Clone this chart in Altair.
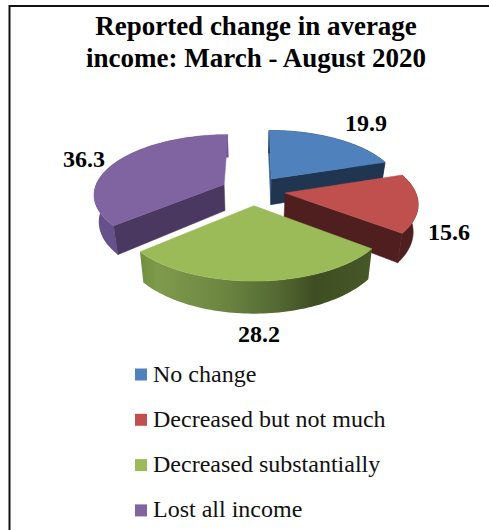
import numpy as np
import pandas as pd
import altair as alt

# Survey shares, clockwise from twelve o'clock
categories = ["No change", "Decreased but not much", "Decreased substantially", "Lost all income"]
shares = [19.9, 15.6, 28.2, 36.3]
title_lines = ["Reported change in average", "income: March - August 2020"]

top_colors = ["#4f81bd", "#c0504d", "#9bbb59", "#8064a2"]
cut_colors = ["#1f3550", "#4f1f1f", "#3f4f22", "#4a3860"]
SERIF = "Liberation Serif"

W, H = 489, 530
# Perspective model of the tilted pie
CX, CY = 253.0, 190.5
RX, RY = 130.0, 59.0
PERSP = 0.15
EXPLODE = 0.248
DEPTH = 26.5
FLOOR_SHRINK = 0.03

label_x = [366, 449, 259, 84]
label_y = [124, 233, 335, 160]
title_x = [256, 256]
title_y = [35, 67]

X_ENC = alt.X("x:Q", scale=alt.Scale(domain=[0, W]), axis=None)
Y_ENC = alt.Y("y:Q", scale=alt.Scale(domain=[H, 0]), axis=None)


def project(u, v, drop=0.0):
    f = 1.0 / (1.0 - PERSP * v)
    return (
        CX + RX * u * f * (1.0 - FLOOR_SHRINK * drop),
        CY + RY * v * f + drop * DEPTH * f,
    )


def ground(angle, mid, r=1.0):
    u = EXPLODE * np.sin(mid) + r * np.sin(angle)
    v = -EXPLODE * np.cos(mid) - r * np.cos(angle)
    return u, v


def polygon(points):
    xs, ys = zip(*points)
    xs = list(xs) + [xs[0]]
    ys = list(ys) + [ys[0]]
    return pd.DataFrame({"x": xs, "y": ys, "i": range(len(xs))})


def shape(points, fill):
    edge = "#ffffff00" if isinstance(fill, alt.LinearGradient) else fill
    return (
        alt.Chart(polygon(points))
        .mark_line(fill=fill, stroke=edge, strokeWidth=0.5, clip=False)
        .encode(x=X_ENC, y=Y_ENC, order=alt.Order("i:Q"))
    )


def side_gradient(stops):
    return alt.LinearGradient(
        gradient="linear",
        x1=0, x2=1, y1=0, y2=0,
        stops=[alt.GradientStop(offset=o, color=c) for o, c in stops],
    )


rim_fills = [
    "#1f3550",
    "#4f1f1f",
    side_gradient([(0, "#70903f"), (0.08, "#7f9a4c"), (0.35, "#6d8741"),
                   (0.6, "#536833"), (0.75, "#3f4e22"), (1, "#465728")]),
    side_gradient([(0, "#64508a"), (0.5, "#6c5590"), (1, "#6c5590")]),
]
SLIVER_BLUE = "#3a5f8a"

total = sum(shares)
edges = np.concatenate([[0.0], np.cumsum(shares)]) / total * 2 * np.pi

layers = []
for k in [0, 3, 1, 2]:  # paint far slices first
    a0, a1 = edges[k], edges[k + 1]
    mid = (a0 + a1) / 2
    arc = np.linspace(a0, a1, 72)
    rim = [ground(a, mid) for a in arc]
    apex = ground(0.0, mid, 0.0)
    upper = [project(u, v) for u, v in rim]
    lower = [project(u, v, 1.0) for u, v in rim]

    def cut_face(end, fill):
        return shape(
            [project(*apex), project(*end), project(*end, 1.0), project(*apex, 1.0)],
            fill,
        )

    # rear-facing cuts sit behind the outer wall
    if k == 0:
        layers.append(cut_face(rim[0], SLIVER_BLUE))
    layers.append(shape(upper + lower[::-1], rim_fills[k]))
    # viewer-facing cuts sit in front of it
    if np.sin(a1) > 1e-6:
        layers.append(cut_face(rim[-1], cut_colors[k]))
    if -np.sin(a0) > 1e-6:
        layers.append(cut_face(rim[0], cut_colors[k]))

    layers.append(shape([project(*apex)] + upper, top_colors[k]))

value_labels = (
    alt.Chart(pd.DataFrame({"x": label_x, "y": label_y, "share": shares}))
    .mark_text(font=SERIF, fontSize=24, fontWeight="bold", color="#000000")
    .encode(x=X_ENC, y=Y_ENC, text=alt.Text("share:Q", format=".1f"))
)

chart_title = (
    alt.Chart(pd.DataFrame({"x": title_x, "y": title_y, "line": title_lines}))
    .mark_text(font=SERIF, fontSize=27, fontWeight="bold", color="#000000", baseline="alphabetic")
    .encode(x=X_ENC, y=Y_ENC, text="line:N")
)

# Outer frame, open to the right and below
frame_top = alt.Chart(pd.DataFrame({"a": [0]})).mark_rule(color="#111111", strokeWidth=2).encode(
    x=alt.value(9), x2=alt.value(W), y=alt.value(6)
)
frame_left = alt.Chart(pd.DataFrame({"a": [0]})).mark_rule(color="#111111", strokeWidth=2).encode(
    x=alt.value(9.5), y=alt.value(5), y2=alt.value(H)
)

# Off-canvas squares that carry the legend
legend_anchor = (
    alt.Chart(pd.DataFrame({"category": categories}))
    .mark_square(size=144, opacity=1)
    .encode(
        x=alt.value(-40),
        y=alt.value(-40),
        color=alt.Color(
            "category:N",
            sort=categories,
            scale=alt.Scale(domain=categories, range=top_colors),
            legend=alt.Legend(
                title=None,
                orient="none",
                legendX=129,
                legendY=362.5,
                symbolType="square",
                symbolSize=144,
                symbolStrokeWidth=0,
                labelFont=SERIF,
                labelFontSize=24,
                labelColor="#111111",
                labelOffset=0,
                labelLimit=340,
                rowPadding=21.3,
            ),
        ),
    )
)

chart = (
    alt.layer(*layers, value_labels, chart_title, frame_top, frame_left, legend_anchor)
    .properties(
        width=W,
        height=H,
        padding=0,
        autosize=alt.AutoSizeParams(type="none"),
        background="#ffffff",
    )
    .configure_view(stroke=None)
)

chart.save("out.html", embed_options={"renderer": "svg", "actions": False})
